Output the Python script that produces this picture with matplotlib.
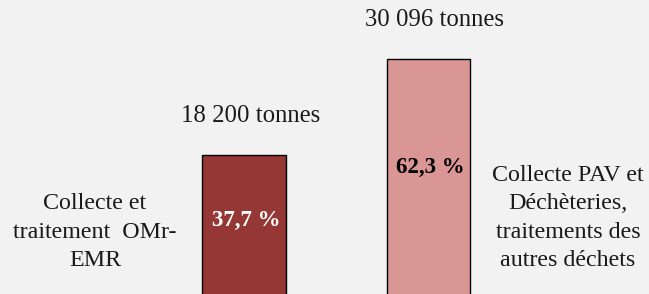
import matplotlib
matplotlib.use('Agg')
import matplotlib.pyplot as plt

# tonnages and shares for the two collection streams
categories = ['OMr-EMR', 'PAV et Déchèteries']
tonnes = [18200, 30096]
tonnes_labels = ['18 200 tonnes', '30 096 tonnes']
share_labels = ['37,7 %', '62,3 %']
colors = ['#953735', '#D99694']
share_colors = ['white', 'black']

plt.rcParams['font.family'] = ['Liberation Serif', 'DejaVu Serif']
bg = '#F2F2F2'

fig = plt.figure(figsize=(6.49, 2.94), dpi=100, facecolor=bg)
# axes extends a bit below the figure: bars are cut at the bottom edge
ax = fig.add_axes([0, -8 / 294, 1, 302 / 294])
ax.set_facecolor(bg)

pos = [0, 1]
ax.bar(pos, tonnes, width=0.455, color=colors, edgecolor='black', linewidth=1)

for x, v, lab in zip(pos, tonnes, tonnes_labels):
    ax.annotate(lab, (x, v), xytext=(4.5, 28), textcoords='offset points',
                ha='center', va='center', fontsize=17.8, color='#1a1a1a')

for x, v, lab, c in zip(pos, tonnes, share_labels, share_colors):
    ax.text(x + 0.01, v * 0.555, lab, ha='center', va='center', fontsize=16.5,
            fontweight='bold', color=c)

ax.set_xlim(-1.322, 2.195)
ax.set_ylim(0, 37403)
ax.axis('off')

fig.text(95 / 649, 1 - 232 / 294, 'Collecte et\ntraitement  OMr-\nEMR',
         ha='center', va='center', fontsize=17.3, color='#1a1a1a', linespacing=1.45)
fig.text(568 / 649, 1 - 218 / 294,
         'Collecte PAV et\nDéchèteries,\ntraitements des\nautres déchets',
         ha='center', va='center', fontsize=17.3, color='#1a1a1a', linespacing=1.45)

fig.savefig('out.png', dpi=100, facecolor=bg)
